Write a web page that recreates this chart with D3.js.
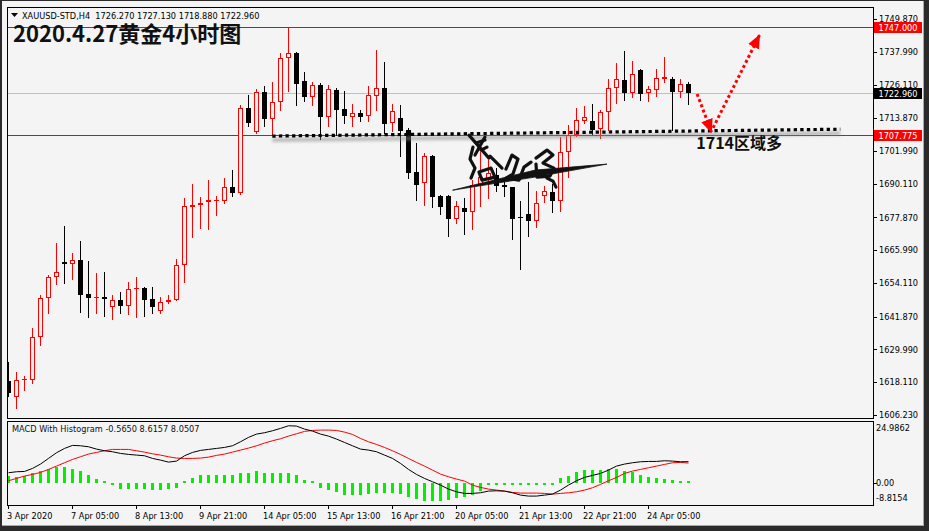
<!DOCTYPE html>
<html><head><meta charset="utf-8">
<script src="https://cdnjs.cloudflare.com/ajax/libs/d3/7.8.5/d3.min.js"></script>
<style>
html,body{margin:0;padding:0;background:#2a2a2a;}
svg{display:block;}
text{font-family:"DejaVu Sans",Verdana,sans-serif;}
text.cjk{font-family:"Noto Sans CJK SC","Noto Sans",sans-serif;font-weight:bold;}
</style></head><body>
<svg id="c" width="929" height="531"></svg>
<script>
// ---------------- DATA ----------------
const opens  = [1618.6,1612.9,1618.8,1618.9,1634.4,1648.5,1656.4,1661.6,1660.9,1662.5,1650.1,1648.8,1649.0,1645.3,1647.9,1645.9,1651.8,1652.4,1648.3,1643.9,1647.3,1648.1,1660.7,1681.8,1682.3,1683.4,1683.8,1683.7,1688.8,1686.7,1717.5,1708.8,1723.5,1713.5,1719.7,1735.9,1737.4,1727.4,1721.5,1725.9,1714.5,1724.1,1717.3,1714.5,1715.7,1714.8,1722.1,1724.7,1712.0,1714.0,1709.7,1694.4,1690.3,1700.3,1685.5,1685.7,1677.4,1681.2,1679.9,1689.7,1691.7,1693.3,1689.8,1688.8,1678.0,1679.1,1676.7,1685.8,1687.0,1684.0,1701.8,1707.9,1712.7,1712.9,1709.9,1716.1,1724.7,1727.7,1723.2,1731.4,1722.9,1724.1,1728.0,1728.0,1723.5,1726.27];
const highs  = [1625.5,1621.9,1620.3,1637.7,1649.7,1657.0,1668.7,1674.8,1665.1,1669.3,1662.1,1657.6,1658.0,1649.7,1650.9,1654.3,1656.2,1652.7,1652.7,1649.1,1649.6,1662.9,1684.9,1690.0,1685.2,1691.5,1685.7,1692.1,1695.1,1718.7,1722.3,1724.5,1725.6,1727.1,1737.6,1747.0,1738.0,1730.5,1727.1,1726.8,1725.9,1724.7,1723.8,1719.1,1716.7,1725.6,1738.6,1734.4,1719.1,1718.7,1710.3,1704.8,1701.2,1700.6,1686.1,1686.1,1683.7,1684.9,1691.5,1701.8,1698.7,1695.7,1691.5,1689.1,1683.9,1690.9,1687.6,1689.3,1689.9,1707.0,1711.5,1717.7,1718.3,1719.1,1716.9,1728.0,1733.8,1738.2,1734.7,1731.6,1725.6,1731.6,1736.2,1728.9,1728.0,1727.13];
const lows   = [1613.1,1608.6,1615.3,1617.9,1631.6,1643.3,1653.9,1654.2,1655.5,1643.7,1641.9,1643.3,1642.2,1640.9,1643.3,1642.8,1641.6,1642.2,1643.3,1643.1,1646.7,1647.9,1654.5,1670.9,1674.2,1673.6,1678.6,1683.3,1685.5,1686.3,1710.9,1708.6,1710.9,1707.9,1716.7,1723.9,1718.7,1720.2,1718.7,1706.3,1711.1,1707.9,1712.3,1711.1,1712.7,1712.9,1716.7,1708.5,1709.3,1700.3,1692.1,1684.3,1682.5,1681.6,1679.1,1671.1,1675.7,1671.9,1673.7,1682.2,1685.1,1687.6,1685.5,1670.1,1659.1,1671.3,1674.5,1683.4,1679.9,1680.4,1692.7,1707.5,1712.3,1708.2,1706.7,1709.7,1719.3,1720.5,1721.7,1720.5,1720.2,1722.0,1727.1,1709.7,1721.4,1718.88];
const closes = [1614.1,1618.9,1619.2,1634.4,1648.5,1656.4,1658.2,1660.9,1662.5,1649.7,1648.8,1649.1,1648.4,1647.9,1645.9,1651.8,1652.4,1648.1,1645.3,1647.3,1647.9,1660.7,1682.1,1682.5,1683.1,1684.3,1684.3,1688.8,1686.7,1717.5,1712.1,1723.3,1713.5,1719.7,1735.9,1737.4,1726.2,1721.4,1725.9,1714.5,1724.5,1716.9,1714.8,1715.7,1714.5,1722.2,1724.7,1711.7,1716.5,1709.1,1694.1,1689.8,1700.3,1685.2,1681.5,1677.3,1682.1,1679.9,1689.7,1692.5,1693.9,1689.4,1688.8,1677.3,1677.8,1676.7,1683.3,1687.4,1684.0,1701.8,1707.9,1713.3,1714.2,1709.7,1716.1,1724.7,1728.0,1723.2,1729.9,1722.7,1724.4,1728.3,1728.7,1723.5,1726.2,1722.96];

const macdLine   = [4.16,4.56,4.69,5.90,7.65,9.93,12.21,13.95,15.16,15.02,14.62,13.68,13.01,12.61,11.94,11.54,11.27,11.00,9.93,9.26,8.45,8.85,11.00,12.34,13.15,13.55,13.95,14.35,15.02,16.63,18.38,19.72,20.26,21.06,22.00,23.07,22.94,21.73,20.93,19.72,18.91,17.71,16.36,15.02,13.68,13.28,12.61,11.27,9.93,7.91,5.50,3.49,1.88,0.54,-0.80,-2.41,-3.49,-4.16,-4.16,-3.89,-3.22,-3.09,-3.22,-3.89,-4.83,-5.23,-5.23,-4.83,-4.43,-2.82,-0.80,0.94,2.28,3.09,3.89,5.23,6.84,7.65,8.18,8.58,8.72,8.72,8.99,8.85,8.58,8.62];
const signalLine = [0.94,1.88,2.82,3.49,4.29,5.50,6.84,8.18,9.52,10.60,11.67,12.34,13.01,13.55,13.55,13.55,13.01,12.47,11.80,11.27,10.60,10.06,9.93,9.93,10.06,10.46,11.13,11.67,12.47,13.28,14.08,15.02,16.10,17.04,17.84,18.91,19.85,20.79,21.19,21.33,21.33,21.19,20.52,19.58,17.97,16.63,15.56,14.35,13.01,11.54,9.93,8.32,6.84,5.23,3.62,2.55,1.61,0.80,-0.80,-1.74,-2.41,-2.82,-3.22,-3.76,-4.02,-4.02,-4.02,-4.16,-4.43,-4.16,-3.89,-3.49,-2.82,-1.88,-0.54,0.94,2.28,3.89,4.83,5.50,6.17,6.84,7.51,8.18,8.32,8.05];
const histogram  = [2.95,2.55,2.95,3.89,4.83,5.77,6.30,6.57,5.77,4.96,3.22,1.61,0.27,-0.40,-2.41,-2.41,-2.41,-2.41,-2.82,-2.82,-2.41,-2.15,0.80,2.01,3.09,3.22,3.22,3.09,3.09,4.02,4.16,4.83,4.16,4.02,4.02,4.16,3.09,1.21,0.27,-1.88,-2.82,-3.49,-4.83,-4.83,-4.83,-4.43,-4.16,-4.16,-4.16,-4.56,-5.77,-6.57,-7.11,-7.11,-7.11,-6.84,-6.17,-5.77,-4.83,-3.09,-0.80,-0.20,-0.20,-0.20,-0.20,-0.20,-0.20,-0.20,-0.20,1.88,2.95,4.56,5.23,5.23,5.23,5.63,5.63,4.96,4.29,3.22,2.28,1.88,1.61,1.21,0.27,0.13];

const priceTicks = [1749.870,1737.990,1726.110,1713.870,1701.990,1690.110,1677.870,1665.990,1654.110,1641.870,1629.990,1618.110,1606.230];
const timeTickIndex  = [0,8,16,24,32,40,48,56,64,72,80];
const timeTickLabels = ["3 Apr 2020","7 Apr 05:00","8 Apr 13:00","9 Apr 21:00","14 Apr 05:00","15 Apr 13:00","16 Apr 21:00","20 Apr 05:00","21 Apr 13:00","22 Apr 21:00","24 Apr 05:00"];
const macdTicks = [24.9862, 0.00, -8.8154];
const macdTickLabels = ["24.9862","0.00","-8.8154"];

const levelPrices = [1747.000, 1722.960, 1707.775];
const levelLabels = ["1747.000","1722.960","1707.775"];

const symbolText = "XAUUSD-STD,H4  1726.270 1727.130 1718.880 1722.960";
const chartTitle = "2020.4.27黄金4小时图";
const macdTitle  = "MACD With Histogram -0.5650 8.6157 8.0507";
const noteText   = "1714区域多";
// hand-drawn support line and arrows (bar index, price)
const supportLine = [[33, 1707.4], [104, 1709.9]];
const arrowDown   = [[86.1, 1722.7], [87.9, 1708.8]];
const arrowUp     = [[88.1, 1710.4], [93.9, 1744.0]];
const notePos     = [86.0, 1702.8];
const signaturePos = [53.96, 1713.2];

// ---------------- LAYOUT ----------------
const W = 929, H = 531, BG = "#f4f4f4";
const PL = 7, PR = 873, PT = 7, PB = 418, MT = 421, MB = 505;
const FS = "8.2px";
const svg = d3.select("#c");

const x = d3.scaleLinear().domain([0, 85]).range([8.3, 688.3]);
const y = d3.scaleLinear().domain([1606.23, 1749.87]).range([415, 19]);
const my = d3.scaleLinear().domain([-8.8154, 24.9862]).range([MB, MT]);
const cx = i => Math.round(x(i));
const px = v => Math.round(v) + 0.5;

svg.append("rect").attr("x",2).attr("y",1).attr("width",922).attr("height",525).attr("fill","#a8a8a8");
svg.append("rect").attr("x",2).attr("y",1).attr("width",921).attr("height",524).attr("fill",BG);

const defs = svg.append("defs");
defs.append("clipPath").attr("id","mainClip").append("rect")
  .attr("x",PL+1).attr("y",PT+1).attr("width",PR-PL-1).attr("height",PB-PT-1);
defs.append("clipPath").attr("id","macdClip").append("rect")
  .attr("x",PL+1).attr("y",MT+1).attr("width",PR-PL-1).attr("height",MB-MT-1);
const blur = defs.append("filter").attr("id","shadow").attr("x","-5%").attr("y","-200%").attr("width","110%").attr("height","500%");
blur.append("feGaussianBlur").attr("stdDeviation",1.6);
defs.append("marker").attr("id","ahead").attr("markerUnits","userSpaceOnUse")
  .attr("viewBox","0 -7 14 14").attr("refX",13).attr("refY",0)
  .attr("markerWidth",14).attr("markerHeight",14).attr("orient","auto")
  .append("path").attr("d","M0,-6 L14,0 L0,6 Z").attr("fill","#ff0000");

// ---------------- MAIN PANEL ----------------
const main = svg.append("g").attr("clip-path","url(#mainClip)");

levelPrices.forEach((p,k)=>{
  main.append("line").attr("x1",PL).attr("x2",PR)
    .attr("y1",px(y(p))).attr("y2",px(y(p)))
    .attr("stroke", k===1 ? "#c0c0c0" : "#ff0000").attr("stroke-width",1)
    .attr("shape-rendering","crispEdges");
});

const candles = main.append("g").attr("shape-rendering","crispEdges");
opens.forEach((o,i)=>{
  const c = closes[i], bull = c > o;
  const col = bull ? "#ff0000" : "#000000";
  const xc = cx(i);
  candles.append("line").attr("x1",xc+0.5).attr("x2",xc+0.5)
    .attr("y1",Math.round(y(highs[i]))).attr("y2",Math.round(y(lows[i]))+1)
    .attr("stroke",col);
  const top = Math.round(y(Math.max(o,c))), bot = Math.round(y(Math.min(o,c)));
  if (!bull) {
    candles.append("rect").attr("x",xc-2).attr("y",top).attr("width",5)
      .attr("height",Math.max(1,bot-top)).attr("fill","#000");
  } else if (bot - top <= 2) {
    candles.append("rect").attr("x",xc-2).attr("y",top).attr("width",5)
      .attr("height",Math.max(1,bot-top)).attr("fill","#ff0000");
  } else {
    candles.append("rect").attr("x",xc-1.5).attr("y",top+0.5).attr("width",4)
      .attr("height",bot-top-1).attr("fill",BG).attr("stroke","#ff0000");
  }
});

const sl = d3.line().x(d=>x(d[0])).y(d=>y(d[1]));
main.append("path").attr("d", sl(supportLine)).attr("transform","translate(0,4)")
  .attr("stroke","#8a8a8a").attr("stroke-width",4).attr("fill","none")
  .attr("opacity",0.55).attr("filter","url(#shadow)");
main.append("path").attr("d", sl(supportLine))
  .attr("stroke","#000").attr("stroke-width",3.2).attr("fill","none")
  .attr("stroke-dasharray","3.3,3.3");

[arrowDown, arrowUp].forEach(a=>{
  main.append("path").attr("d", sl(a)).attr("stroke","#ff0000").attr("stroke-width",3)
    .attr("fill","none").attr("stroke-dasharray","3,2.6").attr("marker-end","url(#ahead)");
});

// signature (decorative scribble)
const sig = main.append("g")
  .attr("transform",`translate(${x(signaturePos[0])},${y(signaturePos[1])})`)
  .attr("fill","none").attr("stroke","#111").attr("stroke-linecap","round").attr("stroke-linejoin","round");
sig.append("path").attr("d","M13,70 L95,50 L167,44 L95,57 Z").attr("fill","#111").attr("stroke-width",0.8);
[
 "M33,27 L30,39 L35,48 L31,58",
 "M29,15 L49,38",
 "M45,17 L35,35",
 "M36,23 L45,20",
 "M41,30 L47,27",
 "M50,36 L62,48",
 "M39,52 L51,48 L55,57 L42,60 Z",
 "M66,49 L72,35 L78,39 L73,54 L66,58 L79,60 L84,47 L91,42",
 "M96,38 L107,30 L113,35 L103,43 L114,48 L110,56 L97,57 L96,44",
 "M107,58 L113,61 L116,67"
].forEach(d=> sig.append("path").attr("d",d).attr("stroke-width",3.2));

svg.append("rect").attr("x",PL+0.5).attr("y",PT+0.5).attr("width",PR-PL).attr("height",PB-PT)
  .attr("fill","none").attr("stroke","#000").attr("shape-rendering","crispEdges");

svg.append("path").attr("d","M11,13 L18,13 L14.5,17 Z").attr("fill","#000");
svg.append("text").attr("x",22).attr("y",18.5).attr("font-size",FS).attr("fill","#000")
  .attr("xml:space","preserve").style("white-space","pre").text(symbolText);
svg.append("text").attr("class","cjk").attr("x",13).attr("y",41.5)
  .style("font-size","22px").attr("fill","#111").text(chartTitle);
svg.append("text").attr("class","cjk").attr("x",x(notePos[0])).attr("y",y(notePos[1]))
  .style("font-size","16px").attr("fill","#111").text(noteText);

const ax = svg.append("g");
priceTicks.forEach(p=>{
  const yy = px(y(p));
  ax.append("line").attr("x1",PR+1).attr("x2",PR+4).attr("y1",yy).attr("y2",yy)
    .attr("stroke","#000").attr("shape-rendering","crispEdges");
  ax.append("text").attr("x",879).attr("y",y(p)+3.2).attr("font-size",FS).attr("fill","#000")
    .text(d3.format(".3f")(p));
});
levelPrices.forEach((p,k)=>{
  const yy = Math.round(y(p));
  ax.append("rect").attr("x",PR+1).attr("y",yy-5).attr("width",48).attr("height",11)
    .attr("fill", k===1 ? "#000" : "#ff0000");
  ax.append("text").attr("x",PR+25).attr("y",yy+3.8).attr("text-anchor","middle")
    .attr("font-size",FS).attr("fill","#fff").text(levelLabels[k]);
});

// ---------------- MACD PANEL ----------------
const mg = svg.append("g").attr("clip-path","url(#macdClip)");
const zero = my(0);
const hb = mg.append("g").attr("shape-rendering","crispEdges");
histogram.forEach((v,i)=>{
  const yv = my(v);
  let h = Math.abs(yv - zero);
  if (h < 2) h = 2;
  const top = v >= 0 ? Math.round(zero) - Math.round(h) : Math.round(zero);
  hb.append("rect").attr("x",cx(i)-1).attr("y",top).attr("width",3).attr("height",Math.round(h))
    .attr("fill","#00f000");
});
const ml = d3.line().x((d,i)=>cx(i)+0.5).y(d=>my(d));
mg.append("path").attr("d",ml(signalLine)).attr("fill","none").attr("stroke","#ff0000").attr("stroke-width",1);
mg.append("path").attr("d",ml(macdLine)).attr("fill","none").attr("stroke","#000").attr("stroke-width",1);

svg.append("rect").attr("x",PL+0.5).attr("y",MT+0.5).attr("width",PR-PL).attr("height",MB-MT)
  .attr("fill","none").attr("stroke","#000").attr("shape-rendering","crispEdges");
svg.append("text").attr("x",12).attr("y",432).attr("font-size",FS).attr("fill","#111").text(macdTitle);

macdTicks.forEach((v,k)=>{
  let ty;
  if (k===0) ty = MT + 9.5;
  else if (k===2) ty = MB - 4;
  else {
    ty = my(v) + 3.2;
    svg.append("line").attr("x1",PR+1).attr("x2",PR+4).attr("y1",px(my(v))).attr("y2",px(my(v)))
      .attr("stroke","#000").attr("shape-rendering","crispEdges");
  }
  svg.append("text").attr("x",876).attr("y",ty).attr("font-size",FS).attr("fill","#000").text(macdTickLabels[k]);
});

timeTickIndex.forEach((idx,k)=>{
  const xx = cx(idx)+0.5;
  svg.append("line").attr("x1",xx).attr("x2",xx).attr("y1",MB+1).attr("y2",MB+4)
    .attr("stroke","#000").attr("shape-rendering","crispEdges");
  svg.append("text").attr("x",cx(idx)-1).attr("y",518.5).attr("font-size",FS).attr("fill","#000")
    .text(timeTickLabels[k]);
});
</script>
</body></html>
